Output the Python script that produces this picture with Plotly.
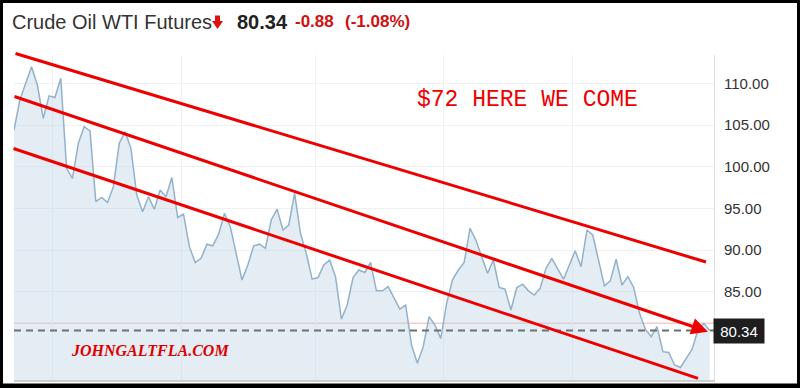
import plotly.graph_objects as go

# ---- data -------------------------------------------------------------
# WTI front-month closes, one value per trading session (Jun -> Dec 2)
prices = [
    104.4, 108.0, 110.0, 112.0, 109.8, 105.8, 108.5, 108.3, 110.6, 99.8,
    98.6, 102.8, 104.8, 104.3, 95.8, 96.3, 95.7, 97.6, 102.8, 104.2,
    102.2, 96.6, 94.6, 96.4, 94.9, 97.2, 96.4, 98.7, 93.9, 94.3,
    90.4, 88.5, 89.0, 90.7, 90.5, 91.9, 94.4, 92.8, 89.6, 86.4,
    88.2, 90.5, 90.7, 90.2, 93.6, 94.9, 92.4, 93.0, 96.8, 92.0,
    89.6, 86.5, 86.7, 88.2, 88.8, 86.8, 81.7, 83.4, 86.7, 87.6,
    87.3, 88.5, 85.1, 85.1, 85.6, 84.2, 82.9, 83.4, 78.6, 76.4,
    78.4, 82.0, 81.0, 79.4, 83.6, 86.4, 87.6, 88.5, 92.6, 91.2,
    89.2, 87.2, 88.8, 85.5, 85.3, 82.8, 85.5, 85.9, 85.1, 84.6,
    85.4, 87.8, 89.0, 87.8, 86.5, 88.2, 89.9, 88.0, 92.4, 91.8,
    88.7, 85.7, 86.3, 88.9, 85.8, 86.8, 85.5, 82.4, 80.5, 79.6,
    80.8, 77.8, 77.7, 76.2, 75.9, 77.0, 78.1, 80.4, 81.2, 80.34,
]
session = list(range(len(prices)))

last_price = prices[-1]
prev_close = 81.22
change = last_price - prev_close
change_pct = change / prev_close * 100

# month boundaries (in sessions) used for the vertical grid
month_breaks = [6.5, 28.7, 51.5, 73.4, 95.6]
price_ticks = [85, 90, 95, 100, 105, 110]

# hand-drawn descending channel: start/end as (session, price)
channel_start_session = [0.0, -0.17, -0.34]
channel_start_price = [113.64, 108.48, 102.24]
channel_end_session = [118.37, 118.7, 117.0]
channel_end_price = [88.56, 80.2, 74.6]
channel_has_head = [False, True, False]

# ---- layout geometry --------------------------------------------------
W, H = 800, 388
PLOT_L, PLOT_R, PLOT_T, PLOT_B = 14, 714, 55, 380


def paper_x(px):
    return (px - PLOT_L) / (PLOT_R - PLOT_L)


def paper_y(py):
    return (PLOT_B - py) / (PLOT_B - PLOT_T)


SANS = "Liberation Sans, Arial, sans-serif"
RED = "#ee0000"

fig = go.Figure()
fig.add_trace(go.Scatter(
    x=session, y=prices, mode="lines",
    line=dict(color="#93b2c9", width=1.5),
    fill="tozeroy", fillcolor="rgba(190,210,228,0.42)",
    hoverinfo="skip", showlegend=False,
))

shapes = [
    # previous close
    dict(type="line", xref="paper", x0=0, x1=1, yref="y",
         y0=prev_close, y1=prev_close, line=dict(color="#f0b4b4", width=1),
         layer="below"),
    # last price
    dict(type="line", xref="paper", x0=0, x1=1, yref="y",
         y0=last_price, y1=last_price,
         line=dict(color="#6a7075", width=2, dash="7px,5px")),
    # outer frame
    dict(type="rect", xref="paper", yref="paper",
         x0=paper_x(0), x1=paper_x(W), y0=paper_y(H), y1=paper_y(0),
         line=dict(color="black", width=6), fillcolor="rgba(0,0,0,0)"),
    dict(type="rect", xref="paper", yref="paper",
         x0=paper_x(0), x1=paper_x(W), y0=paper_y(H), y1=paper_y(383.5),
         line=dict(width=0), fillcolor="black"),
    # red down-arrow in the header
    dict(type="path", xref="paper", yref="paper",
         path="M {a},{b} L {c},{b} L {c},{d} L {e},{d} L {f},{g} L {h},{d} L {a},{d} Z".format(
             a=paper_x(215.0), b=paper_y(15.5), c=paper_x(220.0), d=paper_y(21.0),
             e=paper_x(223.0), f=paper_x(217.5), g=paper_y(29.0), h=paper_x(212.0)),
         line=dict(width=0), fillcolor="#e01010"),
]

annotations = []
for xs, ys, xe, ye, head in zip(channel_start_session, channel_start_price,
                                channel_end_session, channel_end_price,
                                channel_has_head):
    annotations.append(dict(
        x=xe, y=ye, ax=xs, ay=ys, xref="x", yref="y", axref="x", ayref="y",
        text="", showarrow=True, arrowcolor=RED, arrowwidth=3,
        arrowhead=2 if head else 0, arrowsize=1.1, standoff=0,
    ))

# header
annotations += [
    dict(xref="paper", yref="paper", x=paper_x(10), y=paper_y(22),
         xanchor="left", yanchor="middle", showarrow=False,
         text="Crude Oil WTI Futures",
         font=dict(family=SANS, size=20, color="#333333")),
    dict(xref="paper", yref="paper", x=paper_x(235), y=paper_y(22),
         xanchor="left", yanchor="middle", showarrow=False,
         text="<b>%.2f</b>" % last_price,
         font=dict(family=SANS, size=20, color="#222222")),
    dict(xref="paper", yref="paper", x=paper_x(293), y=paper_y(22),
         xanchor="left", yanchor="middle", showarrow=False,
         text="<b>%.2f</b>" % change,
         font=dict(family=SANS, size=17, color="#d01010")),
    dict(xref="paper", yref="paper", x=paper_x(343), y=paper_y(22),
         xanchor="left", yanchor="middle", showarrow=False,
         text="<b>(%.2f%%)</b>" % change_pct,
         font=dict(family=SANS, size=17, color="#d01010")),
]

# price tag on the axis
annotations.append(dict(
    xref="paper", yref="y", x=paper_x(713), y=last_price,
    xanchor="left", yanchor="middle", showarrow=False,
    text="%.2f" % last_price, bgcolor="#1e1e1e", width=46, height=20,
    borderpad=2, font=dict(family=SANS, size=15, color="white"),
))

# overlaid captions
annotations += [
    dict(xref="paper", yref="paper", x=paper_x(527.5), y=paper_y(100),
         xanchor="center", yanchor="middle", showarrow=False,
         text="$72 HERE WE COME",
         font=dict(family="Liberation Mono, Courier New, monospace", size=23, color=RED)),
    dict(xref="paper", yref="paper", x=paper_x(150), y=paper_y(350.5),
         xanchor="center", yanchor="middle", showarrow=False,
         text="<b><i>JOHNGALTFLA.COM</i></b>",
         font=dict(family="Liberation Serif, Times New Roman, serif", size=16, color="#dd0000")),
]

fig.update_layout(
    width=W, height=H,
    margin=dict(l=PLOT_L, r=W - PLOT_R, t=PLOT_T, b=H - PLOT_B),
    paper_bgcolor="white", plot_bgcolor="white",
    shapes=shapes, annotations=annotations,
    xaxis=dict(range=[0, 119.74], tickvals=month_breaks, showticklabels=False,
               showgrid=True, gridcolor="#eef1f4", zeroline=False,
               showline=True, linecolor="#cfcfcf", linewidth=2, ticks=""),
    yaxis=dict(side="right", range=[74.4, 113.4], tickvals=price_ticks,
               tickformat=".2f", showgrid=True, gridcolor="#eff1f3",
               zeroline=False, showline=True, linecolor="#e0e0e0", linewidth=1,
               ticks="outside", ticklen=6, tickcolor="rgba(0,0,0,0)",
               tickfont=dict(family=SANS, size=15, color="#333333")),
    showlegend=False,
)

fig.write_html("out.html")
